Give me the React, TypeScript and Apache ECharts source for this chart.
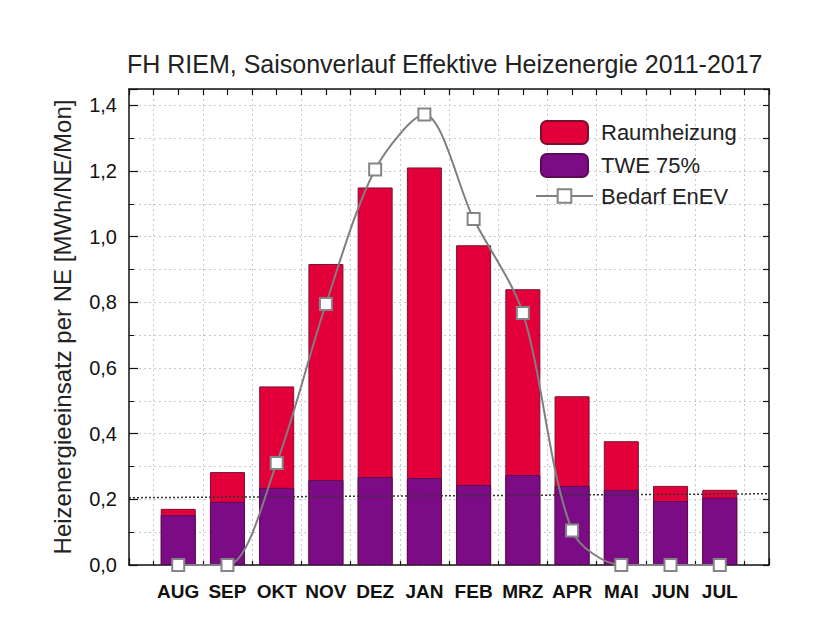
import React, { useEffect, useRef } from "react";
import * as echarts from "echarts";

const months = ["AUG", "SEP", "OKT", "NOV", "DEZ", "JAN", "FEB", "MRZ", "APR", "MAI", "JUN", "JUL"];
const twe75 = [0.152, 0.193, 0.235, 0.259, 0.268, 0.265, 0.244, 0.274, 0.241, 0.229, 0.195, 0.205];
const raumheizung = [0.019, 0.09, 0.309, 0.658, 0.882, 0.946, 0.73, 0.566, 0.273, 0.148, 0.046, 0.024];
const bedarfEnEV = [0, 0, 0.311, 0.795, 1.205, 1.372, 1.054, 0.768, 0.105, 0, 0, 0];
const refLineX = [0, 13];
const refLineY = [0.205, 0.217];

const FONT = "'Liberation Sans', Arial, sans-serif";

export default function App() {
  const ref = useRef<HTMLDivElement>(null);
  useEffect(() => {
    if (!ref.current) return;
    const chart = echarts.init(ref.current, null, { renderer: "svg" });
    const pos = (i: number) => i + 1;
    const gridCol = "#c9c9c9";
    // stacked total (Raumheizung sits on top of TWE 75%)
    const totals = twe75.map((v, i) => v + raumheizung[i]);
    chart.setOption({
      animation: false,
      backgroundColor: "#ffffff",
      textStyle: { fontFamily: FONT },
      title: {
        text: "FH RIEM, Saisonverlauf Effektive Heizenergie 2011-2017",
        left: 127,
        top: 51,
        padding: 0,
        textStyle: { fontFamily: FONT, fontSize: 25, fontWeight: "normal", color: "#222" },
      },
      legend: [
        {
          data: ["Raumheizung", "TWE 75%"],
          orient: "vertical",
          left: 540,
          top: 120,
          padding: 0,
          itemWidth: 47,
          itemHeight: 23,
          itemGap: 8,
          selectedMode: false,
          textStyle: { fontFamily: FONT, fontSize: 22, color: "#222", padding: [0, 0, 0, 8] },
        },
        {
          data: ["Bedarf EnEV"],
          orient: "vertical",
          left: 535,
          top: 185,
          padding: 0,
          itemWidth: 57,
          itemHeight: 17,
          selectedMode: false,
          textStyle: { fontFamily: FONT, fontSize: 22, color: "#222", padding: [0, 0, 0, 3] },
        },
      ],
      grid: { left: 129, right: 58, top: 89, bottom: 69, containLabel: false },
      xAxis: [
        {
          type: "value",
          position: "bottom",
          min: 0,
          max: 13,
          interval: 1,
          axisLine: { show: true, onZero: false, lineStyle: { color: "#111", width: 1.5 } },
          axisTick: { show: true, inside: true, length: 7, lineStyle: { color: "#111", width: 1.2 } },
          minorTick: { show: true, splitNumber: 2, length: 4, lineStyle: { color: "#111", width: 1.2 } },
          splitLine: { show: false },
          minorSplitLine: { show: true, lineStyle: { color: gridCol, type: [2, 3], width: 1 } },
          axisLabel: {
            margin: 17,
            fontFamily: FONT,
            fontSize: 19,
            fontWeight: "bold",
            color: "#111",
            formatter: (v: number) => months[Math.round(v) - 1] || "",
          },
        },
        {
          type: "value",
          position: "top",
          min: 0,
          max: 13,
          interval: 0.5,
          axisLine: { show: true, onZero: false, lineStyle: { color: "#111", width: 1.5 } },
          axisTick: { show: true, inside: true, length: 6, lineStyle: { color: "#111", width: 1.2 } },
          axisLabel: { show: false },
          splitLine: { show: false },
        },
      ],
      yAxis: [
        {
          type: "value",
          position: "left",
          min: 0,
          max: 1.45,
          interval: 0.2,
          name: "Heizenergieeinsatz per NE [MWh/NE/Mon]",
          nameLocation: "middle",
          nameGap: 55,
          nameTextStyle: { fontFamily: FONT, fontSize: 24, color: "#222" },
          axisLine: { show: true, onZero: false, lineStyle: { color: "#111", width: 1.5 } },
          axisTick: { show: true, inside: true, length: 9, lineStyle: { color: "#111", width: 1.2 } },
          minorTick: { show: true, splitNumber: 2, length: 5, lineStyle: { color: "#111", width: 1 } },
          splitLine: { show: true, lineStyle: { color: gridCol, type: [2, 3], width: 1 } },
          minorSplitLine: { show: true, lineStyle: { color: gridCol, type: [2, 3], width: 1 } },
          axisLabel: {
            margin: 12,
            fontFamily: FONT,
            fontSize: 20,
            color: "#111",
            formatter: (v: number) => {
              const k = v / 0.2;
              if (Math.abs(k - Math.round(k)) > 1e-6) return "";
              return v.toFixed(1).replace(".", ",");
            },
          },
        },
        {
          type: "value",
          position: "right",
          min: 0,
          max: 1.45,
          interval: 0.1,
          axisLine: { show: true, onZero: false, lineStyle: { color: "#111", width: 1.5 } },
          axisTick: { show: true, inside: true, length: 6, lineStyle: { color: "#111", width: 1.2 } },
          axisLabel: { show: false },
          splitLine: { show: false },
        },
      ],
      series: [
        {
          name: "Raumheizung",
          type: "bar",
          xAxisIndex: 0,
          yAxisIndex: 0,
          barWidth: 35,
          barGap: "-100%",
          itemStyle: { color: "#e3003a", borderColor: "#7a1030", borderWidth: 1 },
          data: totals.map((v, i) => [pos(i), v]),
          z: 2,
        },
        {
          name: "TWE 75%",
          type: "bar",
          xAxisIndex: 0,
          yAxisIndex: 0,
          barWidth: 35,
          barGap: "-100%",
          itemStyle: { color: "#7b0c86", borderColor: "#5c0a55", borderWidth: 1 },
          data: twe75.map((v, i) => [pos(i), v]),
          z: 3,
        },
        {
          name: "ref",
          type: "line",
          xAxisIndex: 0,
          yAxisIndex: 0,
          silent: true,
          symbol: "none",
          lineStyle: { color: "#333", width: 1.5, type: [2, 2] },
          data: refLineX.map((x, i) => [x, refLineY[i]]),
          z: 4,
        },
        {
          name: "Bedarf EnEV",
          type: "line",
          xAxisIndex: 0,
          yAxisIndex: 0,
          smooth: 0.3,
          symbol: "rect",
          symbolSize: 12,
          itemStyle: { color: "#ffffff", borderColor: "#858585", borderWidth: 2 },
          lineStyle: { color: "#7f7f7f", width: 2 },
          data: bedarfEnEV.map((v, i) => [pos(i), v]),
          z: 5,
        },
      ],
    });
    return () => chart.dispose();
  }, []);
  return (
    <div
      ref={ref}
      style={{ position: "fixed", left: 0, top: 0, width: 827, height: 634, background: "#fff" }}
    />
  );
}
